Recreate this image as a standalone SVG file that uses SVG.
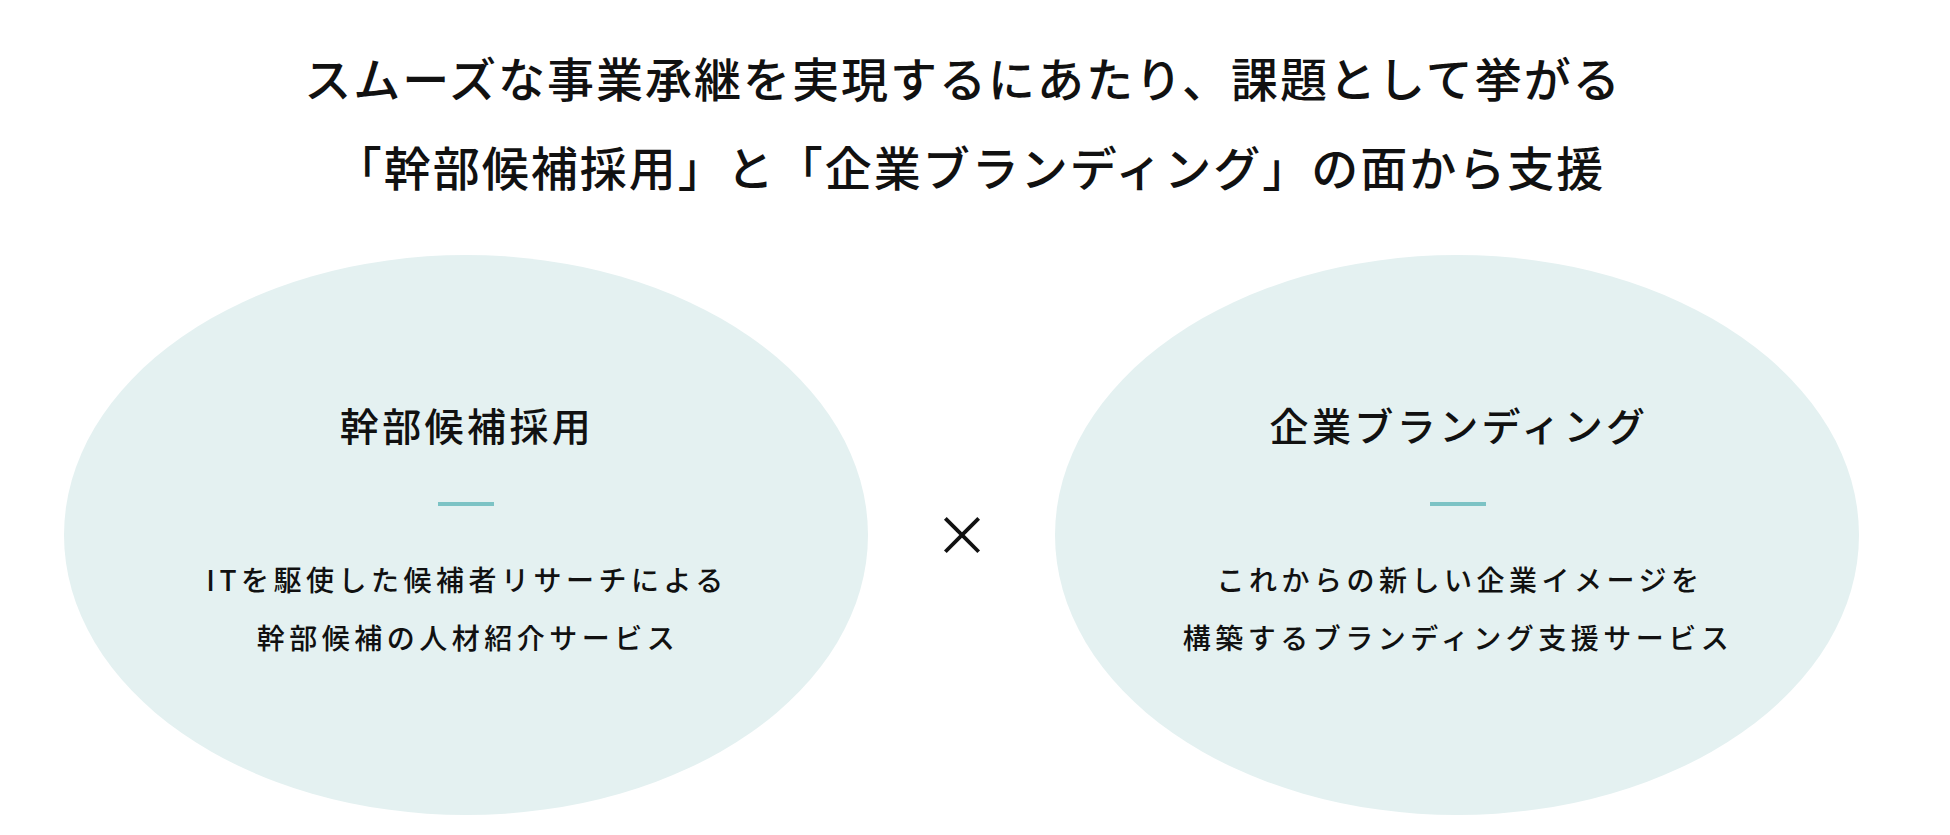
<svg xmlns="http://www.w3.org/2000/svg" width="1950" height="835" viewBox="0 0 1950 835">
<style>
text { font-family: "Noto Sans CJK JP", "Noto Sans CJK SC", sans-serif; fill: #111; text-anchor: middle; }
.title { font-size: 47px; font-weight: 500; letter-spacing: 2px; }
.head { font-size: 39px; font-weight: 500; letter-spacing: 3.4px; }
.body { font-size: 28px; font-weight: 500; letter-spacing: 4.5px; }
.blob { fill: #e4f1f1; }
.rule { stroke: #7cc3c5; stroke-width: 4; }
</style>
<rect width="1950" height="835" fill="#ffffff"/>
<g id="title">
<text class="title" x="963" y="97">スムーズな事業承継を実現するにあたり、課題として挙がる</text>
<text class="title" x="970" y="186">「幹部候補採用」と「企業ブランディング」の面から支援</text>
</g>
<g id="node-recruit">
<ellipse class="blob" cx="466" cy="535" rx="402" ry="280"/>
<text class="head" x="467" y="441">幹部候補採用</text>
<line class="rule" x1="438" y1="504" x2="494" y2="504"/>
<text class="body" x="467" y="591">ITを駆使した候補者リサーチによる</text>
<text class="body" x="468" y="649">幹部候補の人材紹介サービス</text>
</g>
<g id="node-branding">
<ellipse class="blob" cx="1457" cy="535" rx="402" ry="280"/>
<text class="head" x="1459" y="441">企業ブランディング</text>
<line class="rule" x1="1430" y1="504" x2="1486" y2="504"/>
<text class="body" x="1460" y="591">これからの新しい企業イメージを</text>
<text class="body" x="1458" y="649">構築するブランディング支援サービス</text>
</g>
<g id="connectors">
<text x="962" y="556" style="font-size:56px;font-weight:400;">×</text>
</g>
</svg>
